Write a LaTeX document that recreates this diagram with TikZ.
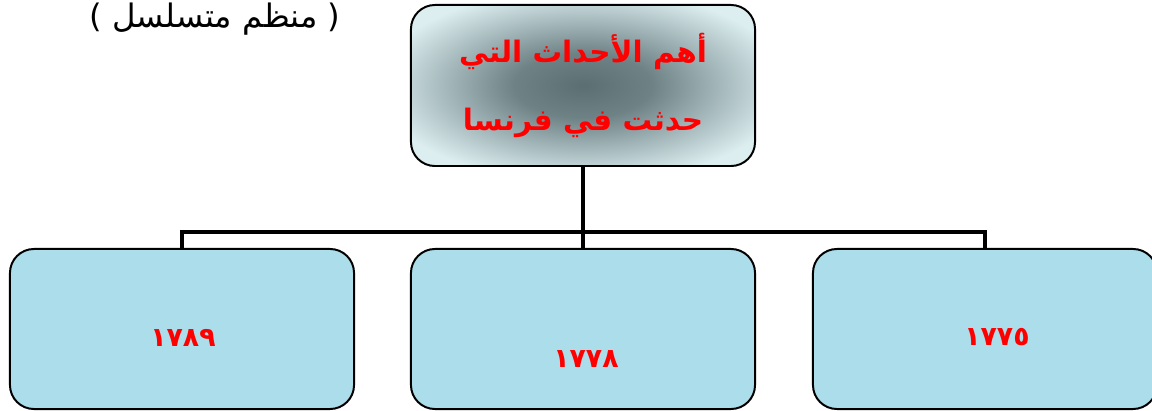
\documentclass[tikz,border=0pt]{standalone}
\usepackage{fontspec}
\newfontfamily\arabicfont[Script=Arabic]{DejaVu Sans}
\newfontfamily\parenfont{DejaVu Sans}
\TeXXeTstate=1
\definecolor{drops}{HTML}{ABDDEA}
\definecolor{haze}{HTML}{DCEEF0}
\definecolor{shadow}{HTML}{5B6F73}
\pgfdeclareradialshading{glow}{\pgfpoint{0bp}{0bp}}{%
  color(0bp)=(shadow); color(10bp)=(shadow!85!haze); color(30bp)=(haze); color(50bp)=(haze)}
\begin{document}
\begin{tikzpicture}[x=0.025cm, y=-0.025cm]
    \tikzset{%
      box/.style={draw, line width=1.4pt, rounded corners=0.6cm, minimum width=8.6cm, minimum height=4cm, inner sep=0pt},
      yearbox/.style={box, fill=drops},
      year/.style={text=red, font=\arabicfont\bfseries\fontsize{19}{22}\selectfont},
      link/.style={line width=3.5pt}
      }
    \useasboundingbox (0,0) rectangle (1152,411);
    \clip (0,0) rectangle (1152,411);

    \node [anchor=base, font=\fontsize{23}{27}\selectfont] (note) at (215, 28)
      {\parenfont(\ \arabicfont\beginR منظم متسلسل\endR\ \parenfont)};

    \node [box, minimum height=4.025cm, shading=glow, align=center,
           text=red, font=\arabicfont\bfseries\fontsize{21}{48}\selectfont] (events) at (583, 85.5)
      {\beginR أهم الأحداث التي\endR\\ \beginR حدثت في فرنسا\endR};

    \node [yearbox] (Ya) at (182, 329) {};
    \node [yearbox] (Yb) at (583, 329) {};
    \node [yearbox] (Yc) at (985, 329) {};

    \node [year] (Ta) at (183, 338) {١٧٨٩};
    \node [year] (Tb) at (586, 359) {١٧٧٨};
    \node [year] (Tc) at (997, 337) {١٧٧٥};

    \coordinate (bar) at (583, 232);
    \draw [link] (events.south) -- (bar);
    \draw [link] (Ya.north) |- (bar) -| (Yc.north);
    \draw [link] (bar) -- (Yb.north);
  \end{tikzpicture}
\end{document}
